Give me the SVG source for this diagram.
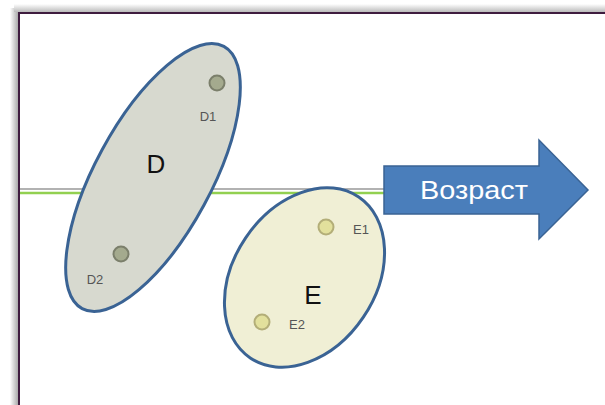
<svg xmlns="http://www.w3.org/2000/svg" width="605" height="405" viewBox="0 0 605 405">
<defs>
<linearGradient id="shL" x1="0" x2="1" y1="0" y2="0"><stop offset="0" stop-color="#fff"/><stop offset="1" stop-color="#aaa"/></linearGradient>
<linearGradient id="shT" x1="0" x2="0" y1="0" y2="1"><stop offset="0" stop-color="#fff"/><stop offset="1" stop-color="#bbb"/></linearGradient>
<style>
.grp{stroke:#3a6394;stroke-width:3}
.lbl{font-family:"Liberation Sans",Arial,sans-serif;fill:#555;font-size:13px;text-anchor:middle}
.big{font-family:"Liberation Sans",Arial,sans-serif;fill:#111;font-size:26px;text-anchor:middle}
.dd{fill:#a4aa8e;stroke:#7b7f6b;stroke-width:2}
.ed{fill:#e2e09c;stroke:#b3ae78;stroke-width:2}
</style>
</defs>
<rect width="605" height="405" fill="#fff"/>
<rect x="10" y="8" width="8" height="397" fill="url(#shL)"/>
<rect x="14" y="4" width="591" height="8" fill="url(#shT)"/>
<rect x="19" y="13" width="600" height="400" fill="#fff" stroke="#3f1c3f" stroke-width="2"/>
<g id="connectors">
<line x1="20" y1="189" x2="390" y2="189" stroke="#999" stroke-width="1.5"/>
<line x1="20" y1="193" x2="386" y2="193" stroke="#92d050" stroke-width="2.5"/>
</g>
<g id="D">
<ellipse class="grp" cx="153" cy="177.5" rx="149" ry="58" transform="rotate(-61.6 153 177.5)" fill="#d7d9cf"/>
<text class="big" x="156" y="173">D</text>
</g>
<g id="D1"><circle class="dd" cx="217" cy="83" r="7.5"/><text class="lbl" x="208" y="121">D1</text></g>
<g id="D2"><circle class="dd" cx="121" cy="254" r="7.5"/><text class="lbl" x="95" y="284">D2</text></g>
<g id="E">
<ellipse class="grp" cx="304.5" cy="277.5" rx="97" ry="71" transform="rotate(-56 304.5 277.5)" fill="#f0efd5"/>
<text class="big" x="313" y="304">E</text>
</g>
<g id="E1"><circle class="ed" cx="326" cy="227" r="7.5"/><text class="lbl" x="361" y="234">E1</text></g>
<g id="E2"><circle class="ed" cx="262" cy="322" r="7.5"/><text class="lbl" x="297" y="329">E2</text></g>
<g id="arrow">
<polygon points="384,166 539,166 539,140 588,190 539,239 539,214 384,214" fill="#4a7ebb" stroke="#3a6394" stroke-width="1.5"/>
<text x="474" y="199" font-family="'Liberation Sans',Arial,sans-serif" font-size="26" fill="#fff" text-anchor="middle" textLength="108" lengthAdjust="spacingAndGlyphs">Возраст</text>
</g>
</svg>
